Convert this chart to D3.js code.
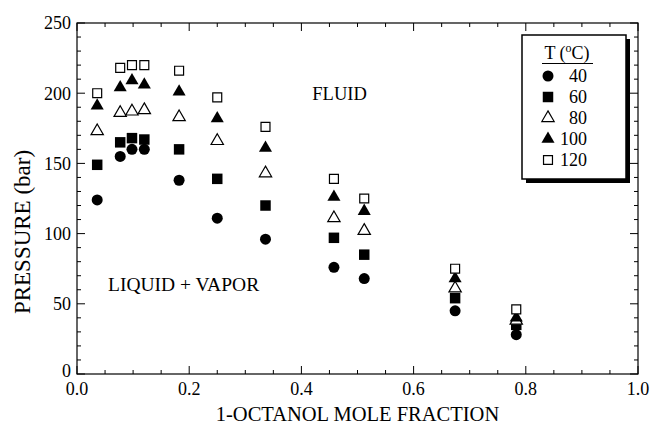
<!DOCTYPE html>
<html>
<head>
<meta charset="utf-8">
<script src="https://cdn.jsdelivr.net/npm/d3@7"></script>
<style>
  body { margin: 0; background: #fff; }
  text { font-family: "Liberation Serif", "DejaVu Serif", serif; fill: #000; }
</style>
</head>
<body>
<svg id="chart"></svg>
<script>
// Octanol mole fraction for each measured mixture
const moleFraction = [0.036, 0.077, 0.098, 0.12, 0.182, 0.25, 0.336, 0.458, 0.512, 0.674, 0.783];

// Transition pressures (bar) at each temperature
const p40  = [124, 155, 160, 160, 138, 111, 96, 76, 68, 45, 28];
const p60  = [149, 165, 168, 167, 160, 139, 120, 97, 85, 54, 35];
const p80  = [173, 186, 187, 188, 183, 166, 143, 111, 102, 61, 38];
const p100 = [191, 204, 209, 206, 201, 182, 161, 126, 116, 68, 40];
const p120 = [200, 218, 220, 220, 216, 197, 176, 139, 125, 75, 46];

const temperatures = ['40', '60', '80', '100', '120'];
const xTickLabels = ['0.0', '0.2', '0.4', '0.6', '0.8', '1.0'];
const yTickLabels = ['0', '50', '100', '150', '200', '250'];

// Marker styles per temperature
const series = [
    {temp: '40',  values: p40,  symbol: d3.symbolCircle,   size: 95,  filled: true},
    {temp: '60',  values: p60,  symbol: d3.symbolSquare,   size: 110, filled: true},
    {temp: '80',  values: p80,  symbol: d3.symbolTriangle, size: 66,  filled: false},
    {temp: '100', values: p100, symbol: d3.symbolTriangle, size: 74,  filled: true},
    {temp: '120', values: p120, symbol: d3.symbolSquare,   size: 80,  filled: false}
];

const width = 652, height = 432;
const margin = {top: 23, right: 14, bottom: 58, left: 77};
const innerW = width - margin.left - margin.right;
const innerH = height - margin.top - margin.bottom;

const svg = d3.select('#chart')
    .attr('width', width)
    .attr('height', height);

const chart = svg.append('g')
    .attr('transform', `translate(${margin.left},${margin.top})`);

const xScale = d3.scaleLinear().domain([0, 1]).range([0, innerW]);
const yScale = d3.scaleLinear().domain([0, 250]).range([innerH, 0]);

// Tick positions: major + minor
const xMajor = xTickLabels.map(Number);
const xMinor = d3.range(0, 1.0001, 0.05).filter(v => !xMajor.some(m => Math.abs(m - v) < 1e-6));
const yMajor = yTickLabels.map(Number);
const yMinor = d3.range(0, 251, 10).filter(v => v % 50 !== 0);

// Frame
chart.append('rect')
    .attr('width', innerW)
    .attr('height', innerH)
    .attr('fill', 'none')
    .attr('stroke', '#000')
    .attr('stroke-width', 1.2);

// Inward ticks on all four sides
const tickG = chart.append('g').attr('stroke', '#000').attr('stroke-width', 1);
function xTicks(vals, len) {
    vals.forEach(v => {
        const x = xScale(v);
        tickG.append('line').attr('x1', x).attr('x2', x).attr('y1', innerH).attr('y2', innerH - len);
        tickG.append('line').attr('x1', x).attr('x2', x).attr('y1', 0).attr('y2', len);
    });
}
function yTicks(vals, len) {
    vals.forEach(v => {
        const y = yScale(v);
        tickG.append('line').attr('x1', 0).attr('x2', len).attr('y1', y).attr('y2', y);
        tickG.append('line').attr('x1', innerW).attr('x2', innerW - len).attr('y1', y).attr('y2', y);
    });
}
xTicks(xMajor, 8);
xTicks(xMinor, 4);
yTicks(yMajor, 8);
yTicks(yMinor, 4);

// Tick labels
chart.selectAll('.x-label')
    .data(xTickLabels)
    .join('text')
    .attr('class', 'x-label')
    .attr('x', d => xScale(+d))
    .attr('y', innerH + 21)
    .attr('text-anchor', 'middle')
    .style('font-size', '18px')
    .text(d => d);

chart.selectAll('.y-label')
    .data(yTickLabels)
    .join('text')
    .attr('class', 'y-label')
    .attr('x', -6)
    .attr('y', d => yScale(+d) - (d === '0' ? 3 : 0))
    .attr('dy', '0.35em')
    .attr('text-anchor', 'end')
    .style('font-size', '18px')
    .text(d => d);

// Axis titles
svg.append('text')
    .attr('x', margin.left + innerW / 2)
    .attr('y', 421)
    .attr('text-anchor', 'middle')
    .style('font-size', '20.5px')
    .text('1-OCTANOL MOLE FRACTION');

svg.append('text')
    .attr('transform', 'translate(30,232) rotate(-90)')
    .attr('text-anchor', 'middle')
    .style('font-size', '23px')
    .text('PRESSURE (bar)');

// Region labels
chart.append('text')
    .attr('x', xScale(0.468))
    .attr('y', yScale(195))
    .attr('text-anchor', 'middle')
    .style('font-size', '18.5px')
    .text('FLUID');

chart.append('text')
    .attr('x', xScale(0.19))
    .attr('y', yScale(59))
    .attr('text-anchor', 'middle')
    .style('font-size', '19.5px')
    .text('LIQUID + VAPOR');

// Data points
series.forEach(s => {
    chart.append('g')
        .selectAll('path')
        .data(s.values.map((v, i) => ({x: moleFraction[i], y: v})))
        .join('path')
        .attr('transform', d => `translate(${xScale(d.x)},${yScale(d.y)})`)
        .attr('d', d3.symbol().type(s.symbol).size(s.size))
        .attr('fill', s.filled ? '#000' : '#fff')
        .attr('stroke', '#000')
        .attr('stroke-width', s.filled ? 0 : 1.2);
});

// Legend box with drop shadow
const legend = svg.append('g').attr('transform', 'translate(522,35)');
const lw = 104, lh = 144;
legend.append('rect')
    .attr('x', 4).attr('y', 4)
    .attr('width', lw).attr('height', lh)
    .attr('fill', '#000');
legend.append('rect')
    .attr('width', lw).attr('height', lh)
    .attr('fill', '#fff')
    .attr('stroke', '#000')
    .attr('stroke-width', 1.5);

const header = legend.append('text')
    .attr('x', 45)
    .attr('y', 24)
    .attr('text-anchor', 'middle')
    .style('font-size', '18px');
header.append('tspan').text('T (');
header.append('tspan').attr('dy', -7).style('font-size', '12px').text('o');
header.append('tspan').attr('dy', 7).text('C)');

legend.append('line')
    .attr('x1', 20).attr('x2', 71)
    .attr('y1', 28.5).attr('y2', 28.5)
    .attr('stroke', '#000')
    .attr('stroke-width', 1.2);

series.forEach((s, i) => {
    const y = 41 + i * 21;
    legend.append('path')
        .attr('transform', `translate(26,${y})`)
        .attr('d', d3.symbol().type(s.symbol).size(s.size))
        .attr('fill', s.filled ? '#000' : '#fff')
        .attr('stroke', '#000')
        .attr('stroke-width', s.filled ? 0 : 1.2);
    legend.append('text')
        .attr('x', 65)
        .attr('y', y)
        .attr('dy', '0.35em')
        .attr('text-anchor', 'end')
        .style('font-size', '18px')
        .text(temperatures[i]);
});
</script>
</body>
</html>
